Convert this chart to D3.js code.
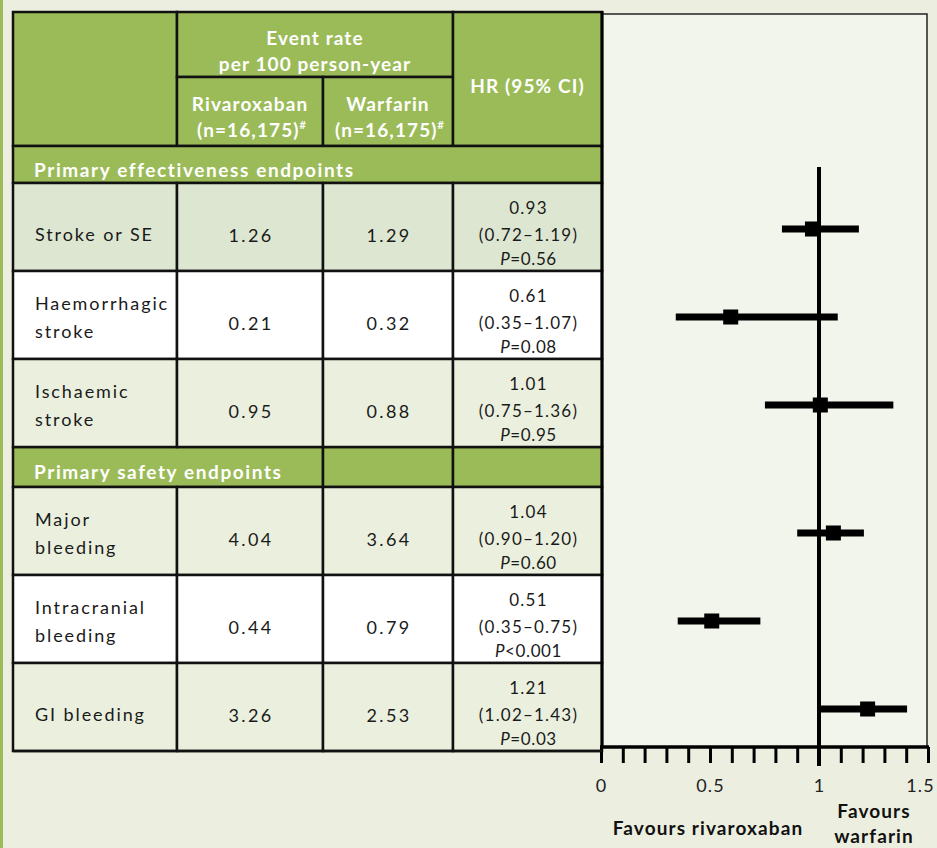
<!DOCTYPE html>
<html>
<head>
<meta charset="utf-8">
<script src="https://cdn.jsdelivr.net/npm/d3@7"></script>
<style>
  html, body { margin: 0; padding: 0; background: #ECEFE0; }
  svg { display: block; }
  text { font-family: Lato, "Open Sans", sans-serif; }
</style>
</head>
<body>
<svg id="chart" width="937" height="848"></svg>
<script>
// ---------------- DATA ----------------
const sections = ["Primary effectiveness endpoints", "Primary safety endpoints"];
const outcomes = [
  ["Stroke or SE"],
  ["Haemorrhagic", "stroke"],
  ["Ischaemic", "stroke"],
  ["Major", "bleeding"],
  ["Intracranial", "bleeding"],
  ["GI bleeding"]
];
const rivaroxabanRate = ["1.26", "0.21", "0.95", "4.04", "0.44", "3.26"];
const warfarinRate    = ["1.29", "0.32", "0.88", "3.64", "0.79", "2.53"];
const hrText  = ["0.93", "0.61", "1.01", "1.04", "0.51", "1.21"];
const ciText  = ["(0.72\u20131.19)", "(0.35\u20131.07)", "(0.75\u20131.36)", "(0.90\u20131.20)", "(0.35\u20130.75)", "(1.02\u20131.43)"];
const pSign   = ["=", "=", "=", "=", "<", "="];
const pValue  = ["0.56", "0.08", "0.95", "0.60", "0.001", "0.03"];
// hazard ratios as drawn in the forest plot
const plotHR = [0.97, 0.595, 1.006, 1.066, 0.508, 1.223];
const plotLo = [0.83, 0.343, 0.752, 0.90, 0.352, 1.009];
const plotHi = [1.183, 1.086, 1.341, 1.206, 0.731, 1.404];
const axisTicks = [0, 0.1, 0.2, 0.3, 0.4, 0.5, 0.6, 0.7, 0.8, 0.9, 1.0, 1.1, 1.2, 1.3, 1.4, 1.5];
const axisLabels = [0, 0.5, 1, 1.5];
const headerEventRate = ["Event rate", "per 100 person-year"];
const headerArms = [["Rivaroxaban", "(n=16,175)"], ["Warfarin", "(n=16,175)"]];
const headerHR = "HR (95% CI)";
const favourLeft = "Favours rivaroxaban";
const favourRight = ["Favours", "warfarin"];

// ---------------- LAYOUT ----------------
const GREEN = "#9BBB59";
const ROWFILL = ["#DDE6D1", "#FFFFFF", "#EBF0DE", "#EBF0DE", "#FFFFFF", "#EBF0DE"];
const colX = [13, 177, 323, 453, 602];
const headerTop = 12, headerMid = 77, headerBottom = 146;
const secTops = [146, 447], secH = [37, 40];
const rowH = 88;
const rowTops = [183, 271, 359, 487, 575, 663];

const svg = d3.select("#chart");

// left green stripe
svg.append("rect").attr("x", 0).attr("y", 0).attr("width", 3).attr("height", 848).attr("fill", GREEN);

// ---------------- FOREST PLOT AREA ----------------
const x = d3.scaleLinear().domain([0, 1.5]).range([601, 928]);
const plotTop = 14, plotBottom = 747;

svg.append("rect")
  .attr("x", 602).attr("y", plotTop).attr("width", 325).attr("height", plotBottom - plotTop)
  .attr("fill", "#F2F5EB").attr("stroke", "#222").attr("stroke-width", 1.5);

// ---------------- TABLE ----------------
const cells = [];
cells.push({x0: colX[0], x1: colX[1], y0: headerTop, y1: headerBottom, fill: GREEN});
cells.push({x0: colX[1], x1: colX[3], y0: headerTop, y1: headerMid, fill: GREEN});
cells.push({x0: colX[1], x1: colX[2], y0: headerMid, y1: headerBottom, fill: GREEN});
cells.push({x0: colX[2], x1: colX[3], y0: headerMid, y1: headerBottom, fill: GREEN});
cells.push({x0: colX[3], x1: colX[4], y0: headerTop, y1: headerBottom, fill: GREEN});
cells.push({x0: colX[0], x1: colX[4], y0: secTops[0], y1: secTops[0] + secH[0], fill: GREEN});
cells.push({x0: colX[0], x1: colX[2], y0: secTops[1], y1: secTops[1] + secH[1], fill: GREEN});
cells.push({x0: colX[2], x1: colX[3], y0: secTops[1], y1: secTops[1] + secH[1], fill: GREEN});
cells.push({x0: colX[3], x1: colX[4], y0: secTops[1], y1: secTops[1] + secH[1], fill: GREEN});
rowTops.forEach((t, i) => {
  for (let c = 0; c < 4; c++) {
    cells.push({x0: colX[c], x1: colX[c + 1], y0: t, y1: t + rowH, fill: ROWFILL[i]});
  }
});

svg.append("g").selectAll("rect").data(cells).join("rect")
  .attr("x", d => d.x0).attr("y", d => d.y0)
  .attr("width", d => d.x1 - d.x0).attr("height", d => d.y1 - d.y0)
  .attr("fill", d => d.fill).attr("stroke", "#111").attr("stroke-width", 2.5);

svg.append("line").attr("x1", 602).attr("x2", 602).attr("y1", headerTop - 1).attr("y2", plotBottom)
  .attr("stroke", "#000").attr("stroke-width", 3);

// header text
const hdr = svg.append("g").attr("fill", "#fff").attr("font-weight", 700).attr("font-size", 19)
  .attr("letter-spacing", 1.1).attr("text-anchor", "middle");
const evX = (colX[1] + colX[3]) / 2;
hdr.selectAll("text.ev").data(headerEventRate).join("text")
  .attr("x", evX).attr("y", (d, i) => 38 + i * 26).attr("dy", "0.35em").text(d => d);
headerArms.forEach((arm, a) => {
  const cx = (colX[1 + a] + colX[2 + a]) / 2;
  hdr.append("text").attr("x", cx).attr("y", 104).attr("dy", "0.35em").text(arm[0]);
  const t = hdr.append("text").attr("x", cx + 2).attr("y", 130).attr("dy", "0.35em");
  t.append("tspan").text(arm[1]);
  t.append("tspan").attr("font-size", 11).attr("dy", "-0.7em").text("#");
});
hdr.append("text").attr("x", (colX[3] + colX[4]) / 2).attr("y", 86).attr("dy", "0.35em").text(headerHR);

// section text
svg.append("g").selectAll("text").data(sections).join("text")
  .attr("x", 34).attr("y", (d, i) => secTops[i] + (i === 0 ? 24 : 25)).attr("dy", "0.35em")
  .attr("fill", "#fff").attr("font-weight", 700).attr("font-size", 19).attr("letter-spacing", 1.6)
  .text(d => d);

// row texts
const body = svg.append("g").attr("fill", "#1a1a1a");
outcomes.forEach((lines, i) => {
  const t = rowTops[i];
  const ly = lines.length === 1 ? [t + 52] : [t + 33, t + 61];
  lines.forEach((ln, k) => {
    body.append("text").attr("x", 35).attr("y", ly[k]).attr("dy", "0.35em")
      .attr("font-size", 18).attr("letter-spacing", 1.9).text(ln);
  });
  body.append("text").attr("x", (colX[1] + colX[2]) / 2 + 1).attr("y", t + 53).attr("dy", "0.35em")
    .attr("text-anchor", "middle").attr("font-size", 18).attr("letter-spacing", 2.3).text(rivaroxabanRate[i]);
  body.append("text").attr("x", (colX[2] + colX[3]) / 2 + 1).attr("y", t + 53).attr("dy", "0.35em")
    .attr("text-anchor", "middle").attr("font-size", 18).attr("letter-spacing", 2.3).text(warfarinRate[i]);
  const hx = (colX[3] + colX[4]) / 2 + 1;
  body.append("text").attr("x", hx).attr("y", t + 25).attr("dy", "0.35em")
    .attr("text-anchor", "middle").attr("font-size", 17).attr("letter-spacing", 1.2).text(hrText[i]);
  body.append("text").attr("x", hx).attr("y", t + 52).attr("dy", "0.35em")
    .attr("text-anchor", "middle").attr("font-size", 17).attr("letter-spacing", 1.2).text(ciText[i]);
  const pt = body.append("text").attr("x", hx).attr("y", t + 76).attr("dy", "0.35em")
    .attr("text-anchor", "middle").attr("font-size", 17).attr("letter-spacing", 0.6);
  pt.append("tspan").attr("font-style", "italic").text("P");
  pt.append("tspan").text(pSign[i] + pValue[i]);
});

// ---------------- FOREST MARKS ----------------
const rowCenter = i => rowTops[i] + 46;

svg.append("line").attr("x1", x(1)).attr("x2", x(1)).attr("y1", 167).attr("y2", plotBottom + 19)
  .attr("stroke", "#000").attr("stroke-width", 4);

const marks = svg.append("g");
marks.selectAll("line.ci").data(outcomes).join("line").attr("class", "ci")
  .attr("x1", (d, i) => x(plotLo[i])).attr("x2", (d, i) => x(plotHi[i]))
  .attr("y1", (d, i) => rowCenter(i)).attr("y2", (d, i) => rowCenter(i))
  .attr("stroke", "#000").attr("stroke-width", 7);
const sq = 15;
marks.selectAll("rect.pt").data(outcomes).join("rect").attr("class", "pt")
  .attr("x", (d, i) => x(plotHR[i]) - sq / 2).attr("y", (d, i) => rowCenter(i) - sq / 2)
  .attr("width", sq).attr("height", sq).attr("fill", "#000");

// ---------------- AXIS ----------------
const axis = d3.axisBottom(x).tickValues(axisTicks).tickSize(16)
  .tickFormat(d => axisLabels.some(v => Math.abs(v - d) < 1e-9) ? d3.format("~g")(d) : "");
const ag = svg.append("g").attr("transform", `translate(0,${plotBottom})`).call(axis);
ag.select(".domain").attr("stroke", "#000").attr("stroke-width", 3.5)
  .attr("d", `M${x(0) - 1},0H${x(1.5) + 1}`);
ag.selectAll(".tick line").attr("stroke", "#000").attr("stroke-width", 3);
ag.selectAll(".tick text").attr("font-size", 18).attr("fill", "#222").attr("y", 32)
  .attr("font-family", "Lato, sans-serif").attr("letter-spacing", 1.2)
  .attr("dx", d => d === 1.5 ? -8 : 0);

svg.append("line").attr("x1", colX[0]).attr("x2", 602).attr("y1", 751).attr("y2", 751)
  .attr("stroke", "#111").attr("stroke-width", 2.5);

// favours labels
const fav = svg.append("g").attr("font-weight", 700).attr("font-size", 19).attr("fill", "#111")
  .attr("letter-spacing", 1.1).attr("text-anchor", "middle");
fav.append("text").attr("x", 708).attr("y", 828).attr("dy", "0.35em").text(favourLeft);
fav.selectAll("text.fr").data(favourRight).join("text").attr("class", "fr")
  .attr("x", 874).attr("y", (d, i) => 811 + i * 25).attr("dy", "0.35em").text(d => d);
</script>
</body>
</html>
